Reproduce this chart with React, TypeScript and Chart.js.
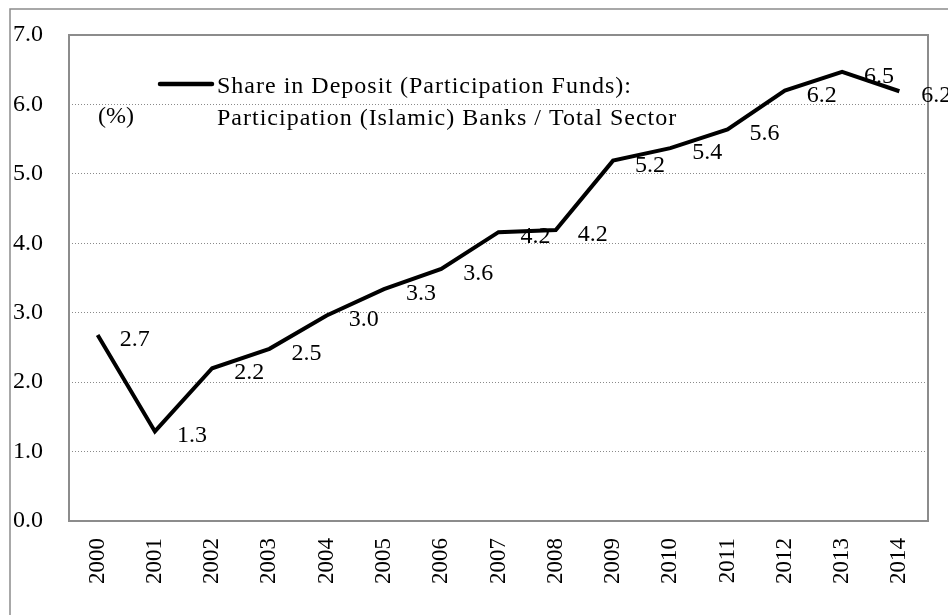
import React, { useEffect, useRef } from "react";
import { Chart, registerables } from "chart.js";

Chart.register(...registerables);

const years = ["2000", "2001", "2002", "2003", "2004", "2005", "2006", "2007", "2008", "2009", "2010", "2011", "2012", "2013", "2014"];
const shareValues = [2.68, 1.29, 2.2, 2.48, 2.96, 3.34, 3.63, 4.16, 4.19, 5.19, 5.37, 5.64, 6.2, 6.47, 6.19];
const yMin = 0;
const yMax = 7;
const yStep = 1;
const legendLines = ["Share in Deposit (Participation Funds):", "Participation (Islamic) Banks / Total Sector"];
const unitLabel = "(%)";

const FONT = "'Liberation Serif', 'Times New Roman', serif";
const GRAY = "#8c8c8c";

const decorPlugin = {
  id: "decor",
  beforeDatasetsDraw(chart: any) {
    const ctx = chart.ctx;
    const a = chart.chartArea;
    ctx.save();
    // plot area box
    ctx.strokeStyle = GRAY;
    ctx.lineWidth = 2;
    ctx.strokeRect(a.left, a.top, a.right - a.left, a.bottom - a.top);
    // data labels
    ctx.fillStyle = "#000";
    ctx.font = `24px ${FONT}`;
    ctx.textAlign = "left";
    ctx.textBaseline = "alphabetic";
    const meta = chart.getDatasetMeta(0);
    meta.data.forEach((pt: any, i: number) => {
      ctx.fillText(shareValues[i].toFixed(1), pt.x + 22, pt.y + 11);
    });
    ctx.restore();
  },
  afterDraw(chart: any) {
    const ctx = chart.ctx;
    const a = chart.chartArea;
    ctx.save();
    // outer frame
    ctx.strokeStyle = GRAY;
    ctx.lineWidth = 1.5;
    ctx.beginPath();
    ctx.moveTo(10, chart.height);
    ctx.lineTo(10, 9);
    ctx.lineTo(chart.width, 9);
    ctx.stroke();
    // legend
    const lx = a.left + 91;
    const ly = a.top + 49;
    ctx.strokeStyle = "#000";
    ctx.lineWidth = 4.5;
    ctx.lineCap = "round";
    ctx.beginPath();
    ctx.moveTo(lx, ly);
    ctx.lineTo(lx + 52, ly);
    ctx.stroke();
    ctx.fillStyle = "#000";
    ctx.font = `24px ${FONT}`;
    ctx.textAlign = "left";
    ctx.textBaseline = "alphabetic";
    try { (ctx as any).letterSpacing = "1px"; } catch (e) {}
    ctx.fillText(legendLines[0], lx + 57, ly + 9);
    ctx.fillText(legendLines[1], lx + 57, ly + 41);
    try { (ctx as any).letterSpacing = "0px"; } catch (e) {}
    ctx.fillText(unitLabel, a.left + 29, ly + 39);
    ctx.restore();
  },
};

export default function App() {
  const ref = useRef<HTMLCanvasElement | null>(null);
  useEffect(() => {
    if (!ref.current) return;
    const chart = new Chart(ref.current, {
      type: "line",
      data: {
        labels: years,
        datasets: [
          {
            label: legendLines.join(" "),
            data: shareValues,
            borderColor: "#000",
            backgroundColor: "#000",
            borderWidth: 4,
            pointRadius: 0,
            tension: 0,
            fill: false,
          },
        ],
      },
      options: {
        animation: false,
        responsive: false,
        devicePixelRatio: 1,
        layout: { padding: { left: 0, top: 35, right: 20, bottom: 0 } },
        plugins: { legend: { display: false }, tooltip: { enabled: false } },
        scales: {
          x: {
            type: "category",
            offset: true,
            grid: { display: false, drawTicks: false },
            border: { display: false },
            ticks: {
              autoSkip: false,
              minRotation: 90,
              maxRotation: 90,
              padding: 17,
              color: "#000",
              font: { family: FONT, size: 23 },
            },
            afterFit: (s: any) => {
              s.height = 94;
              s.paddingLeft = 0;
              s.paddingRight = 0;
              s.paddingTop = 0;
              s.paddingBottom = 0;
            },
          },
          y: {
            min: yMin,
            max: yMax,
            grid: { color: "#8a8a8a", lineWidth: 1, drawTicks: false },
            border: { display: false, dash: [1, 2] },
            ticks: {
              stepSize: yStep,
              padding: 26,
              color: "#000",
              font: { family: FONT, size: 24 },
              callback: (v: any) => Number(v).toFixed(1),
            },
            afterFit: (s: any) => {
              s.width = 69;
              s.paddingTop = 0;
              s.paddingBottom = 0;
              s.paddingLeft = 0;
              s.paddingRight = 0;
            },
          },
        },
      },
      plugins: [decorPlugin],
    });
    return () => chart.destroy();
  }, []);
  return (
    <div style={{ position: "fixed", left: 0, top: 0, width: 948, height: 615, background: "#fff" }}>
      <canvas ref={ref} width={948} height={615} style={{ display: "block" }} />
    </div>
  );
}
